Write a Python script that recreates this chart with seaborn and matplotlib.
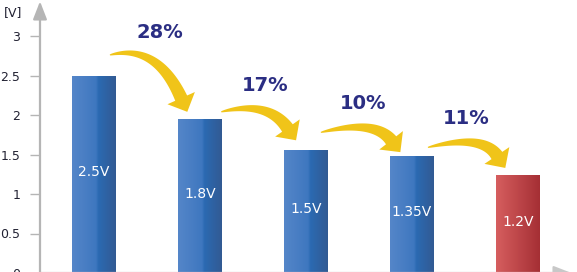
import numpy as np
import matplotlib
matplotlib.use("Agg")
import matplotlib.pyplot as plt
from matplotlib.colors import LinearSegmentedColormap
from matplotlib.patches import Polygon
from matplotlib.transforms import IdentityTransform
import seaborn as sns

# ---- data ----
categories = ["A", "B", "C", "D", "E"]
bar_heights = [2.5, 1.95, 1.56, 1.48, 1.24]
bar_labels = ["2.5V", "1.8V", "1.5V", "1.35V", "1.2V"]
drops = ["28%", "17%", "10%", "11%"]
yticks = [0, 0.5, 1, 1.5, 2, 2.5, 3]
ytick_labels = ["0", "0.5", "1", "1.5", "2", "2.5", "3"]
unit_label = "[V]"

sns.set_theme(style="white")
plt.rcParams['font.family'] = ['DejaVu Sans']

W, H = 577, 272
fig = plt.figure(figsize=(W / 100, H / 100), dpi=100)
ax = fig.add_axes([40 / W, -1 / H, 537 / W, 273 / H])

sns.barplot(x=categories, y=bar_heights, ax=ax, width=0.415,
            color="#3a6fb5", saturation=1, linewidth=0)

blue = LinearSegmentedColormap.from_list(
    "b", [(0, "#5586c9"), (0.55, "#3e77bf"), (0.6, "#2b6ab2"), (1, "#325a93")])
red = LinearSegmentedColormap.from_list(
    "r", [(0, "#d65e5f"), (1, "#a52f34")])
grad = np.linspace(0, 1, 256).reshape(1, -1)

xl = (-54 / 106, (577 - 94) / 106)
yl = (0, 273 / 79)
for i, p in enumerate(ax.patches):
    x0, y0 = p.get_x(), p.get_y()
    w, h = p.get_width(), p.get_height()
    cmap = red if i == len(ax.patches) - 1 else blue
    im = ax.imshow(grad, cmap=cmap, extent=[x0, x0 + w, y0, y0 + h],
                   aspect="auto", zorder=2, interpolation="bilinear")
    im.set_clip_path(p)
    p.set_facecolor("none")
    ax.text(x0 + w / 2, h / 2 + 0.03, bar_labels[i], color="white",
            fontsize=10, ha="center", va="center", zorder=4)

ax.set_xlim(*xl)
ax.set_ylim(*yl)
fig.canvas.draw()


def swoosh(tail, tip, head_deg, start_deg=14, head_len=15, head_half=15,
           w0=1.0, w1=13.0):
    """Tapered curved arrow built in display (pixel) coordinates."""
    P0 = np.array(ax.transData.transform(tail))
    T = np.array(ax.transData.transform(tip))
    a = np.deg2rad(-head_deg)
    d = np.array([np.cos(a), np.sin(a)])
    Pb = T - head_len * d
    b = np.deg2rad(start_deg)
    u0 = np.array([np.cos(b), np.sin(b)])
    A = np.column_stack([u0, d])
    s, t = np.linalg.solve(A, Pb - P0)
    P1 = P0 + s * u0
    ts = np.linspace(0, 1, 60)[:, None]
    C = (1 - ts) ** 2 * P0 + 2 * (1 - ts) * ts * P1 + ts ** 2 * Pb
    D = 2 * (1 - ts) * (P1 - P0) + 2 * ts * (Pb - P1)
    D = D / np.linalg.norm(D, axis=1, keepdims=True)
    N = np.column_stack([-D[:, 1], D[:, 0]])
    wid = (w0 + (w1 - w0) * ts[:, 0] ** 0.7)[:, None] / 2
    left = C + N * wid
    right = C - N * wid
    ne = N[-1]
    pts = np.vstack([left, [Pb + ne * head_half], [T], [Pb - ne * head_half],
                     right[::-1]])
    poly = Polygon(pts, closed=True, transform=IdentityTransform(),
                   facecolor="#f0c419", edgecolor="none", zorder=3)
    ax.add_artist(poly)


# arrow geometry (styling offsets relative to bar tops)
tail_off = [(0.15, 0.26), (0.20, 0.09), (0.14, 0.22), (0.15, 0.11)]
tip_off = [(-0.12, 0.09), (-0.094, 0.12), (-0.11, 0.05), (-0.12, 0.09)]
head_angles = [66, 55, 52, 56]
label_off = [(0.62, 0.54), (0.61, 0.42), (0.54, 0.58), (0.51, 0.48)]
for i in range(4):
    tail = (i + tail_off[i][0], bar_heights[i] + tail_off[i][1])
    tip = (i + 1 + tip_off[i][0], bar_heights[i + 1] + tip_off[i][1])
    swoosh(tail, tip, head_angles[i])
    ax.text(i + label_off[i][0], bar_heights[i] + label_off[i][1], drops[i],
            color="#2b2e83", fontsize=14, fontweight="bold",
            ha="center", va="center", zorder=5)

# axes styling
for s in ax.spines.values():
    s.set_visible(False)
ax.set_xticks([])
ax.set_yticks(yticks)
ax.set_yticklabels(ytick_labels)
ax.tick_params(axis="y", which="both", left=True, length=7.2, width=1.0,
               color="#b5b5b5", pad=7, labelsize=9, labelcolor="#222233")
ax.set_xlabel("")
ax.set_ylabel("")

ax.annotate("", xy=(0, 0.995), xytext=(0, 0), xycoords="axes fraction",
            arrowprops=dict(arrowstyle="-|>,head_length=0.9,head_width=0.35",
                            color="#b5b5b5", lw=1.6, shrinkA=0, shrinkB=0),
            annotation_clip=False)
ax.annotate("", xy=(0.99, 0.0), xytext=(0, 0), xycoords="axes fraction",
            arrowprops=dict(arrowstyle="-|>,head_length=0.9,head_width=0.35",
                            color="#c8c8c8", lw=1.6, shrinkA=0, shrinkB=0),
            annotation_clip=False)

fig.text(13 / W, 1 - 13 / H, unit_label, fontsize=9, color="#222233",
         ha="center", va="center")

fig.savefig("out.png", dpi=100)
